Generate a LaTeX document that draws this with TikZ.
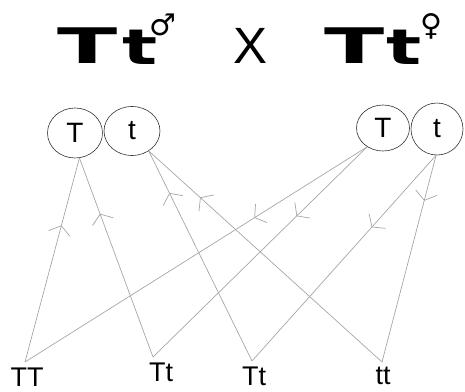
\documentclass[tikz,border=0pt]{standalone}
\usepackage{fontspec}
\setmainfont{Liberation Sans}
\newfontfamily\djv{DejaVu Sans}
\usetikzlibrary{shapes.geometric,arrows.meta,decorations.markings}
\tikzset{
  allele/.style={draw=black!80,line width=0.6pt,ellipse,inner sep=0pt,font=\fontsize{28}{28}\selectfont},
  geno/.style={inner sep=0pt,font=\fontsize{27}{27}\selectfont},
  cross/.style={draw=black!35,line width=0.7pt},
  amark/.style={postaction={decorate,decoration={markings,mark=at position #1 with {\arrow[black!35,line width=0.7pt]{Straight Barb[length=8pt,width=22pt]}}}}},
  big/.style={inner sep=0pt,font=\djv\bfseries\fontsize{49}{49}\selectfont},
  sym/.style={inner sep=0pt,font=\djv\fontsize{30}{30}\selectfont},
}
\begin{document}
\begin{tikzpicture}[x=1pt,y=-1pt]
\useasboundingbox (0,0) rectangle (465,391);
% title
\node[big] (mT) at (88,46) {\scalebox{1.8}[1]{T}};
\node[big] (mt) at (140,47) {\scalebox{1.5}[1]{t}};
\node[sym] (male) at (163,25) {♂};
\node[inner sep=0pt,font=\fontsize{51}{51}\selectfont] (x) at (251,46) {X};
\node[big] (fT) at (355,46) {\scalebox{1.8}[1]{T}};
\node[big] (ft) at (404,47) {\scalebox{1.5}[1]{t}};
\node[sym] (female) at (431,26) {♀};
% parent alleles
\node[allele,minimum width=55pt,minimum height=50pt] (lT) at (75,133) {T};
\node[allele,minimum width=56pt,minimum height=49pt] (lt) at (132,131) {t};
\node[allele,minimum width=53pt,minimum height=46pt] (rT) at (383,128) {T};
\node[allele,minimum width=52pt,minimum height=52pt] (rt) at (437,129) {t};
% offspring points
\coordinate (pTT) at (25,362);
\coordinate (pTt1) at (153,357);
\coordinate (pTt2) at (252,361);
\coordinate (ptt) at (382,362);
\node[geno] (gTT) at (27,377) {TT};
\node[geno] (gTt1) at (161,372) {Tt};
\node[geno] (gTt2) at (254,376) {Tt};
\node[geno] (gtt) at (383,376) {tt};
% connectors: to the left parent (arrows up)
\draw[cross,amark=0.67] (pTT) -- (lT.-80);
\draw[cross,amark=0.72] (pTt1) -- (lT.-80);
\draw[cross,amark=0.8] (pTt2) -- (lt.-50);
\draw[cross,amark=0.78] (ptt) -- (lt.-50);
% connectors: from the right parent (arrows down)
\draw[cross,amark=0.33] (rT.-130) -- (pTT);
\draw[cross,amark=0.33] (rT.-130) -- (pTt1);
\draw[cross,amark=0.35] (rt.-92) -- (pTt2);
\draw[cross,amark=0.22] (rt.-92) -- (ptt);
\end{tikzpicture}
\end{document}
